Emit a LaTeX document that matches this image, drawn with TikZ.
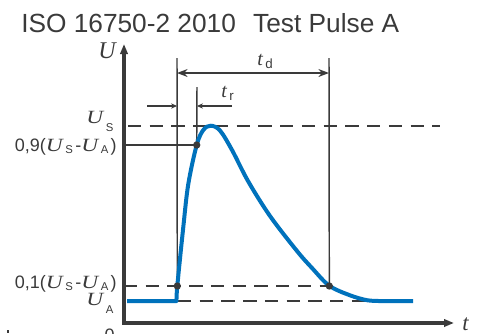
\documentclass[tikz,border=0pt]{standalone}
\usepackage{graphicx}
\usepackage{fontspec}
\setmainfont{Liberation Sans}
\newfontfamily\serif{Liberation Serif}
\usetikzlibrary{arrows.meta,positioning}
\definecolor{AxisGray}{HTML}{3A3A3A}
\definecolor{PulseBlue}{HTML}{0072BC}
\newcommand\vU{\scalebox{1.25}[1]{\serif\itshape\fontsize{14}{14}\selectfont U}}
\newcommand\vt{{\serif\itshape\fontsize{15}{15}\selectfont t}}
\newcommand\Usub[2][1.8pt]{\vU\kern2pt\raisebox{-#1}{\fontsize{8.5}{9}\selectfont#2}\kern1.8pt}
\newcommand\tsub[1]{\vt\kern2pt\raisebox{-2.5pt}{\fontsize{10}{10}\selectfont#1}}
\tikzset{>=Stealth,every node/.style={text=AxisGray,inner sep=0pt},
 axis/.style={draw=AxisGray,line width=2.6pt,{Triangle[length=7.5pt,width=5.5pt]}-{Triangle[length=7.5pt,width=5.5pt]}},
 level/.style={draw=AxisGray,line width=2pt,dash pattern=on 10pt off 6.3pt},
 guide/.style={draw=AxisGray,line width=1.1pt},
 dim/.style={guide,-{Stealth[length=4.5pt,width=4pt]}},
 pulse/.style={draw=PulseBlue,line width=3pt,line join=round},
 dot/.style={circle,fill=AxisGray,minimum size=5.5pt},
 lbl/.style={font=\fontsize{13.5}{14}\selectfont,anchor=base east}}

\begin{document}
\begin{tikzpicture}[x=0.75pt,y=-0.75pt]
\useasboundingbox (0,0) rectangle (478,333);
\node[anchor=base west,font=\fontsize{19.7}{20}\selectfont] (title) at (21,32)
 {ISO 16750-2 2010\hspace{13pt}Test Pulse A};
\coordinate (O) at (124,323);
\coordinate (ytop) at (124,44);
\coordinate (xend) at (454,323);
\coordinate (usL) at (128,126);
\coordinate (usR) at (440,126);
\coordinate (p9L) at (124,145);
\coordinate (p1L) at (124,286);
\coordinate (uaL) at (178,301);
\coordinate (uaR) at (370,301);
\coordinate (tdL) at (177,58);
\coordinate (tdR) at (329,58);
\coordinate (trR) at (197,87);
\coordinate (trA) at (147,106);
\coordinate (trB) at (232,106);
\coordinate (b0) at (127,301);
\coordinate (b1) at (176.5,301);
\coordinate (b2) at (413,301);
\coordinate (m9) at (196.7,145);
\coordinate (m1a) at (177.3,286);
\coordinate (m1b) at (329.3,286);
\draw[level] (usL) -- (usR);
\draw[level] (p1L) -- (m1b);
\draw[level] (uaL) -- (uaR);
\draw[guide] (p9L) -- (m9);
\draw[guide] (tdL) -- (m1a);
\draw[guide] (tdR) -- (m1b);
\draw[guide] (trR) -- (m9);
\draw[dim,<->] (tdL |- 0,73) -- (tdR |- 0,73);
\draw[dim] (trA) -- (tdL |- trA);
\draw[dim] (trB) -- (trR |- trB);
\draw[pulse] (b0) -- (b1) -- plot[smooth,tension=0.55] coordinates {(176.5,301) (177.3,286)
 (183.3,227) (188.3,184) (196.7,145) (203.3,130) (210.7,125.7) (220,130.5) (232,150)
 (248,181) (270,216) (297,251) (312,268) (329.3,285.7) (350,295.3) (367,300.2) (380,301)} -- (b2);
\draw[axis] (ytop) -- (O) -- (xend);
\node[dot] (d9) at (m9) {};
\node[dot] (d1a) at (m1a) {};
\node[dot] (d1b) at (m1b) {};
\node[anchor=base east] (lU) at (116,58) {{\serif\itshape\fontsize{18}{18}\selectfont U}};
\node[anchor=base west] (lt) at (462,330) {{\serif\itshape\fontsize{17}{17}\selectfont t}};
\node[anchor=base west] (ltd) at (257,65) {\tsub{d}};
\node[anchor=base west] (ltr) at (221,97) {\tsub{r}};
\node[lbl] (lUS) at (116,123) {\Usub[6pt]{S}};
\node[lbl] (l9) at (117,151) {0,9(\Usub{S}-\Usub{A})};
\node[lbl] (l1) at (117,288) {0,1(\Usub{S}-\Usub{A})};
\node[lbl] (lUA) at (116,305) {\Usub[6pt]{A}};
\node[lbl] (l0) at (115,341) {0};
\fill[AxisGray] (7,330) rectangle (9,333);
\end{tikzpicture}
\end{document}
